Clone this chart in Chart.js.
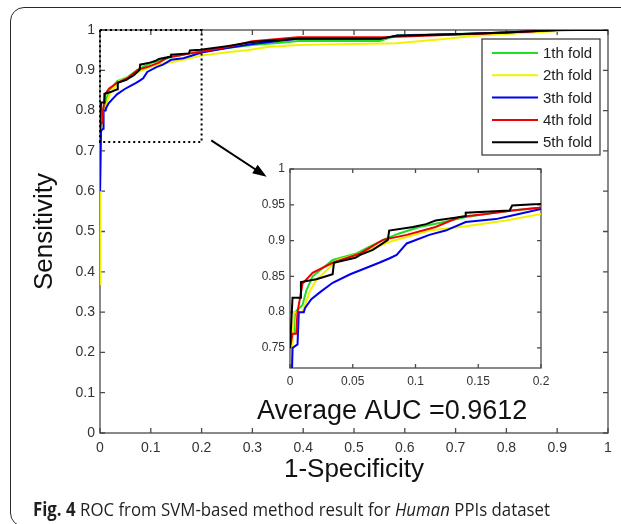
<!DOCTYPE html>
<html>
<head>
<meta charset="utf-8">
<script src="https://cdn.jsdelivr.net/npm/chart.js@4.4.0/dist/chart.umd.min.js"></script>
<style>
  html, body { margin: 0; padding: 0; background: #fff; }
  body { width: 621px; height: 524px; position: relative; overflow: hidden; }
  #frame { position: absolute; left: 10px; top: 7px; width: 660px; height: 518px; border: 1.5px solid #2a2a2a; border-radius: 14px; }
  #main { position: absolute; left: 0; top: 0; }
  #inset { position: absolute; left: 230px; top: 150px; }
</style>
</head>
<body>
<div id="frame"></div>
<canvas id="main" width="621" height="524"></canvas>
<canvas id="inset" width="330" height="250"></canvas>
<script>
// ROC curves, 5-fold cross validation
const foldLabels = ['1th fold', '2th fold', '3th fold', '4th fold', '5th fold']
const foldColors = ['#22dd22', '#f2f200', '#0000ee', '#ee0000', '#000000']

const fold1Fpr = [0, 0.003, 0.004, 0.010, 0.013, 0.018, 0.025, 0.034, 0.053, 0.065, 0.077, 0.087, 0.103, 0.120, 0.140, 0.160, 0.177, 0.200, 0.250, 0.300, 0.350, 0.390, 0.550, 0.586, 0.700, 0.800, 0.900, 1.000]
const fold1Tpr = [0.77, 0.77, 0.80, 0.81, 0.83, 0.85, 0.86, 0.873, 0.882, 0.893, 0.903, 0.910, 0.919, 0.925, 0.933, 0.938, 0.942, 0.946, 0.955, 0.963, 0.968, 0.973, 0.973, 0.987, 0.990, 0.994, 1.000, 1.000]

const fold2Fpr = [0, 0.001, 0.002, 0.003, 0.010, 0.016, 0.021, 0.027, 0.038, 0.056, 0.079, 0.095, 0.111, 0.140, 0.172, 0.200, 0.250, 0.290, 0.330, 0.390, 0.584, 0.682, 0.740, 0.850, 0.940, 1.000]
const fold2Tpr = [0.37, 0.60, 0.76, 0.80, 0.80, 0.83, 0.845, 0.855, 0.873, 0.882, 0.898, 0.906, 0.914, 0.920, 0.928, 0.937, 0.945, 0.950, 0.958, 0.963, 0.967, 0.978, 0.986, 0.994, 1.000, 1.000]

const fold3Fpr = [0, 0.002, 0.006, 0.007, 0.011, 0.012, 0.017, 0.024, 0.034, 0.048, 0.061, 0.071, 0.079, 0.085, 0.093, 0.111, 0.124, 0.140, 0.164, 0.177, 0.200, 0.250, 0.300, 0.389, 0.551, 0.584, 0.714, 0.800, 0.900, 1.000]
const fold3Tpr = [0.60, 0.75, 0.755, 0.80, 0.80, 0.806, 0.818, 0.828, 0.841, 0.853, 0.862, 0.869, 0.875, 0.880, 0.896, 0.908, 0.914, 0.926, 0.930, 0.935, 0.944, 0.955, 0.965, 0.978, 0.978, 0.986, 0.990, 0.994, 1.000, 1.000]

const fold4Fpr = [0, 0.002, 0.005, 0.006, 0.008, 0.010, 0.018, 0.034, 0.056, 0.074, 0.093, 0.116, 0.135, 0.156, 0.177, 0.198, 0.250, 0.300, 0.389, 0.558, 0.746, 0.910, 1.000]
const fold4Tpr = [0.75, 0.77, 0.77, 0.80, 0.82, 0.84, 0.855, 0.869, 0.882, 0.901, 0.908, 0.919, 0.933, 0.937, 0.942, 0.946, 0.958, 0.972, 0.982, 0.982, 0.991, 1.000, 1.000]

const fold5Fpr = [0, 0.002, 0.0087, 0.0087, 0.021, 0.034, 0.035, 0.052, 0.056, 0.066, 0.078, 0.079, 0.098, 0.1085, 0.116, 0.140, 0.140, 0.175, 0.177, 0.198, 0.250, 0.300, 0.389, 0.551, 0.584, 0.714, 0.800, 0.900, 1.000]
const fold5Tpr = [0.75, 0.82, 0.82, 0.842, 0.846, 0.853, 0.869, 0.876, 0.880, 0.887, 0.901, 0.914, 0.919, 0.923, 0.928, 0.934, 0.939, 0.942, 0.949, 0.951, 0.960, 0.970, 0.978, 0.978, 0.986, 0.990, 0.994, 1.000, 1.000]

const mainTicks = [0, 0.1, 0.2, 0.3, 0.4, 0.5, 0.6, 0.7, 0.8, 0.9, 1]
const insetXTicks = [0, 0.05, 0.1, 0.15, 0.2]
const insetYTicks = [0.75, 0.8, 0.85, 0.9, 0.95, 1]
const insetRange = [0, 0.2, 0.722, 1]   // x min, x max, y min, y max
const arrowFrom = [0.219, 0.726]
const arrowTo = [0.328, 0.636]
const aucText = 'Average AUC =0.9612'
const aucPos = [0.575, 0.035]

const FONT = '"Liberation Sans", Arial, Helvetica, sans-serif'
Chart.defaults.font.family = FONT
Chart.defaults.color = '#333'

const folds = [[fold1Fpr, fold1Tpr], [fold2Fpr, fold2Tpr], [fold3Fpr, fold3Tpr], [fold4Fpr, fold4Tpr], [fold5Fpr, fold5Tpr]]

const makeDatasets = () => folds.map((f, i) => ({
    label: foldLabels[i],
    data: f[0].map((x, j) => ({ x: x, y: f[1][j] })),
    borderColor: foldColors[i],
    backgroundColor: foldColors[i],
    borderWidth: 2,
    pointRadius: 0,
    tension: 0,
    fill: false,
    order: folds.length - i   // later folds on top, like matlab
}))

// matlab style box with inward ticks on all four sides
const axisBox = {
    id: 'axisBox',
    beforeDatasetsDraw(chart, args, opts) {
        const { ctx, chartArea: a, scales: { x, y } } = chart
        ctx.save()
        if (opts.fill) {
            ctx.fillStyle = '#fff'
            ctx.fillRect(a.left, a.top, a.width, a.height)
        }
        ctx.strokeStyle = '#4a4a4a'
        ctx.lineWidth = 1.3
        ctx.strokeRect(a.left, a.top, a.width, a.height)
        const len = opts.len
        ctx.beginPath()
        x.ticks.forEach(t => {
            const px = x.getPixelForValue(t.value)
            ctx.moveTo(px, a.bottom); ctx.lineTo(px, a.bottom - len)
            ctx.moveTo(px, a.top); ctx.lineTo(px, a.top + len)
        })
        y.ticks.forEach(t => {
            const py = y.getPixelForValue(t.value)
            ctx.moveTo(a.left, py); ctx.lineTo(a.left + len, py)
            ctx.moveTo(a.right, py); ctx.lineTo(a.right - len, py)
        })
        ctx.stroke()
        ctx.restore()
    }
}

const overlay = {
    id: 'overlay',
    afterDatasetsDraw(chart) {
        const { ctx, chartArea: a, scales: { x, y } } = chart
        ctx.save()

        // dotted box around the zoomed region
        ctx.strokeStyle = '#000'
        ctx.lineWidth = 2
        ctx.setLineDash([2, 3])
        const bx0 = x.getPixelForValue(insetRange[0]), bx1 = x.getPixelForValue(insetRange[1])
        const by0 = y.getPixelForValue(insetRange[2]), by1 = y.getPixelForValue(insetRange[3])
        ctx.strokeRect(bx0, by1, bx1 - bx0, by0 - by1)
        ctx.setLineDash([])

        // arrow to the inset
        const ax0 = x.getPixelForValue(arrowFrom[0]), ay0 = y.getPixelForValue(arrowFrom[1])
        const ax1 = x.getPixelForValue(arrowTo[0]), ay1 = y.getPixelForValue(arrowTo[1])
        const ang = Math.atan2(ay1 - ay0, ax1 - ax0)
        ctx.beginPath()
        ctx.moveTo(ax0, ay0)
        ctx.lineTo(ax1 - 10 * Math.cos(ang), ay1 - 10 * Math.sin(ang))
        ctx.stroke()
        ctx.beginPath()
        ctx.moveTo(ax1, ay1)
        ctx.lineTo(ax1 - 14 * Math.cos(ang) + 5 * Math.sin(ang), ay1 - 14 * Math.sin(ang) - 5 * Math.cos(ang))
        ctx.lineTo(ax1 - 14 * Math.cos(ang) - 5 * Math.sin(ang), ay1 - 14 * Math.sin(ang) + 5 * Math.cos(ang))
        ctx.closePath()
        ctx.fillStyle = '#000'
        ctx.fill()

        // auc text
        ctx.font = '27px ' + FONT
        ctx.textAlign = 'center'
        ctx.textBaseline = 'alphabetic'
        ctx.fillStyle = '#111'
        ctx.fillText(aucText, x.getPixelForValue(aucPos[0]), y.getPixelForValue(aucPos[1]))

        // legend box top right
        const w = 118, h = 116
        const lx = a.right - 8 - w, ly = a.top + 9
        ctx.fillStyle = '#fff'
        ctx.fillRect(lx, ly, w, h)
        ctx.strokeStyle = '#333'
        ctx.lineWidth = 1.2
        ctx.strokeRect(lx, ly, w, h)
        ctx.font = '15px ' + FONT
        ctx.textAlign = 'left'
        ctx.textBaseline = 'middle'
        chart.data.datasets.forEach((ds, i) => {
            const ry = ly + 14 + i * 22.3
            ctx.strokeStyle = ds.borderColor
            ctx.lineWidth = 2
            ctx.beginPath()
            ctx.moveTo(lx + 10, ry); ctx.lineTo(lx + 56, ry)
            ctx.stroke()
            ctx.fillStyle = '#222'
            ctx.fillText(ds.label, lx + 61, ry + 1)
        })
        ctx.restore()
    },
    afterDraw(chart) {
        // figure caption
        const ctx = chart.ctx
        const parts = [
            ['bold 19px "Open Sans", sans-serif', 'Fig. 4'],
            ['19px "Open Sans", sans-serif', ' ROC from SVM-based method result for '],
            ['italic 19px "Open Sans", sans-serif', 'Human'],
            ['19px "Open Sans", sans-serif', ' PPIs dataset']
        ]
        ctx.save()
        let total = 0
        parts.forEach(p => { ctx.font = p[0]; total += ctx.measureText(p[1]).width })
        ctx.translate(33, 516)
        ctx.scale(517 / total, 1)
        ctx.fillStyle = '#231f20'
        ctx.textBaseline = 'alphabetic'
        let cx = 0
        parts.forEach(p => {
            ctx.font = p[0]
            ctx.fillText(p[1], cx, 0)
            cx += ctx.measureText(p[1]).width
        })
        ctx.restore()
    }
}

const tickSetter = list => scale => { scale.ticks = list.map(v => ({ value: v })) }

new Chart(document.getElementById('main'), {
    type: 'line',
    data: { datasets: makeDatasets() },
    options: {
        responsive: false,
        animation: false,
        devicePixelRatio: 1,
        events: [],
        layout: { padding: { top: 30, right: 13, left: 0, bottom: 0 } },
        plugins: { legend: { display: false }, tooltip: { enabled: false }, axisBox: { len: 5 } },
        scales: {
            x: {
                type: 'linear', min: 0, max: 1,
                afterBuildTicks: tickSetter(mainTicks),
                afterFit: s => { s.height = 91 },
                grid: { display: false, drawTicks: false },
                border: { display: false },
                ticks: { padding: 7, font: { size: 14 }, autoSkip: false, maxRotation: 0, callback: v => String(v) },
                title: { display: true, text: '1-Specificity', font: { size: 26 }, color: '#111', padding: { top: 0, bottom: 39 } }
            },
            y: {
                type: 'linear', min: 0, max: 1,
                afterBuildTicks: tickSetter(mainTicks),
                afterFit: s => { s.width = 100 },
                grid: { display: false, drawTicks: false },
                border: { display: false },
                ticks: { padding: 5, font: { size: 14 }, autoSkip: false, callback: v => String(v) },
                title: { display: true, text: 'Sensitivity', font: { size: 26 }, color: '#111', padding: { top: 29, bottom: 0 } }
            }
        }
    },
    plugins: [axisBox, overlay]
})

// enlarged view of the upper left corner
new Chart(document.getElementById('inset'), {
    type: 'line',
    data: { datasets: makeDatasets() },
    options: {
        responsive: false,
        animation: false,
        devicePixelRatio: 1,
        events: [],
        layout: { padding: { top: 19, right: 19, left: 0, bottom: 0 } },
        plugins: { legend: { display: false }, tooltip: { enabled: false }, axisBox: { len: 4, fill: true } },
        scales: {
            x: {
                type: 'linear', min: insetRange[0], max: insetRange[1],
                afterBuildTicks: tickSetter(insetXTicks),
                afterFit: s => { s.height = 32 },
                grid: { display: false, drawTicks: false },
                border: { display: false },
                ticks: { padding: 6, font: { size: 12 }, autoSkip: false, maxRotation: 0, callback: v => String(v) }
            },
            y: {
                type: 'linear', min: insetRange[2], max: insetRange[3],
                afterBuildTicks: tickSetter(insetYTicks),
                afterFit: s => { s.width = 60 },
                grid: { display: false, drawTicks: false },
                border: { display: false },
                ticks: { padding: 5, font: { size: 12 }, autoSkip: false, callback: v => String(v) }
            }
        }
    },
    plugins: [axisBox]
})
</script>
</body>
</html>
